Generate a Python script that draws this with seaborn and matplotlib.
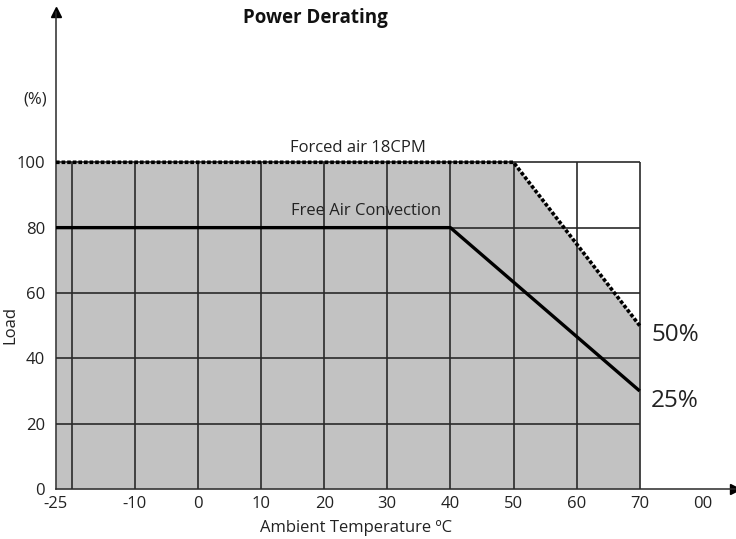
import numpy as np
import matplotlib.pyplot as plt
import seaborn as sns

# Derating curves
temp_free = [-25, 40, 70]
load_free = [80, 80, 30]
temp_forced = [-25, 50, 70]
load_forced = [100, 100, 50]

grid_x = [-20, -10, 0, 10, 20, 30, 40, 50, 60, 70]
grid_y = [20, 40, 60, 80, 100]
xtick_pos = [-25, -10, 0, 10, 20, 30, 40, 50, 60, 70, 80]
xtick_labels = ['-25', '-10', '0', '10', '20', '30', '40', '50', '60', '70', '00']
ytick_pos = [0, 20, 40, 60, 80, 100]

sns.set_style('white')
plt.rcParams['font.family'] = ['Open Sans', 'DejaVu Sans']


# the first step (-25 to -20) is squeezed to half width in the original
def fwd(x):
    x = np.asarray(x, dtype=float)
    return np.where(x < -20, -20 + (x + 20) * 0.5, x)


def inv(y):
    y = np.asarray(y, dtype=float)
    return np.where(y < -20, -20 + (y + 20) * 2.0, y)


fig = plt.figure(figsize=(7.36, 5.39), dpi=100)
ax = fig.add_axes([56 / 736, 50 / 539, 679 / 736, 477 / 539])
ax.set_xscale('function', functions=(fwd, inv))
ax.set_xlim(-25, 85.1)
ax.set_ylim(0, 146)

grey = '#c2c2c2'
ink = '#2a2a2a'
txt = '#222222'

ax.fill_between(temp_forced, load_forced, 0, color=grey, lw=0, zorder=1)
ax.vlines(grid_x, 0, 100, color=ink, lw=1.2, zorder=2)
ax.hlines(grid_y, -25, 70, color=ink, lw=1.2, zorder=2)

sns.lineplot(x=temp_forced, y=load_forced, ax=ax, color='black', lw=2.6,
             linestyle=(0, (1, 0.55)), zorder=4, estimator=None, sort=False)
sns.lineplot(x=temp_free, y=load_free, ax=ax, color='black', lw=2.4,
             zorder=4, estimator=None, sort=False)
for l in ax.lines:
    l.set_dash_capstyle('butt')
    l.set_solid_capstyle('butt')

# axes with arrow heads
for s in ['top', 'right']:
    ax.spines[s].set_visible(False)
for s in ['left', 'bottom']:
    ax.spines[s].set_color(ink)
    ax.spines[s].set_linewidth(1.1)
ax.plot(1, 0, '>', color='black', ms=7, transform=ax.transAxes, clip_on=False)
ax.plot(0, 1, '^', color='black', ms=7, transform=ax.transAxes, clip_on=False)

ax.set_xticks(xtick_pos)
ax.set_xticklabels(xtick_labels)
ax.set_yticks(ytick_pos)
ax.tick_params(axis='both', length=0, labelsize=12, colors=txt)
ax.tick_params(axis='x', pad=5)
ax.tick_params(axis='y', pad=8)
ax.minorticks_off()

fig.text(356 / 736, 1 - 528 / 539, 'Ambient Temperature ºC', fontsize=12,
         color=txt, ha='center', va='center')
fig.text(10 / 736, 1 - 325 / 539, 'Load', rotation=90, fontsize=12,
         color=txt, ha='center', va='center')
fig.text(35 / 736, 1 - 99 / 539, '(%)', fontsize=12, color=txt,
         ha='center', va='center')
fig.text(315 / 736, 1 - 18 / 539, 'Power Derating', fontsize=13.5,
         fontweight='bold', color='#111111', ha='center', va='center')

ax.text(25.4, 104.5, 'Forced air 18CPM', fontsize=12, color=txt,
        ha='center', va='center', zorder=1.5)
ax.text(26.6, 85, 'Free Air Convection', fontsize=12, color=txt,
        ha='center', va='center', zorder=1.5)
ax.text(71.8, load_forced[-1] - 3, '50%', fontsize=17.5, color=txt,
        ha='left', va='center')
ax.text(71.8, load_free[-1] - 3, '25%', fontsize=17.5, color=txt,
        ha='left', va='center')

fig.savefig('out.png', dpi=100)
